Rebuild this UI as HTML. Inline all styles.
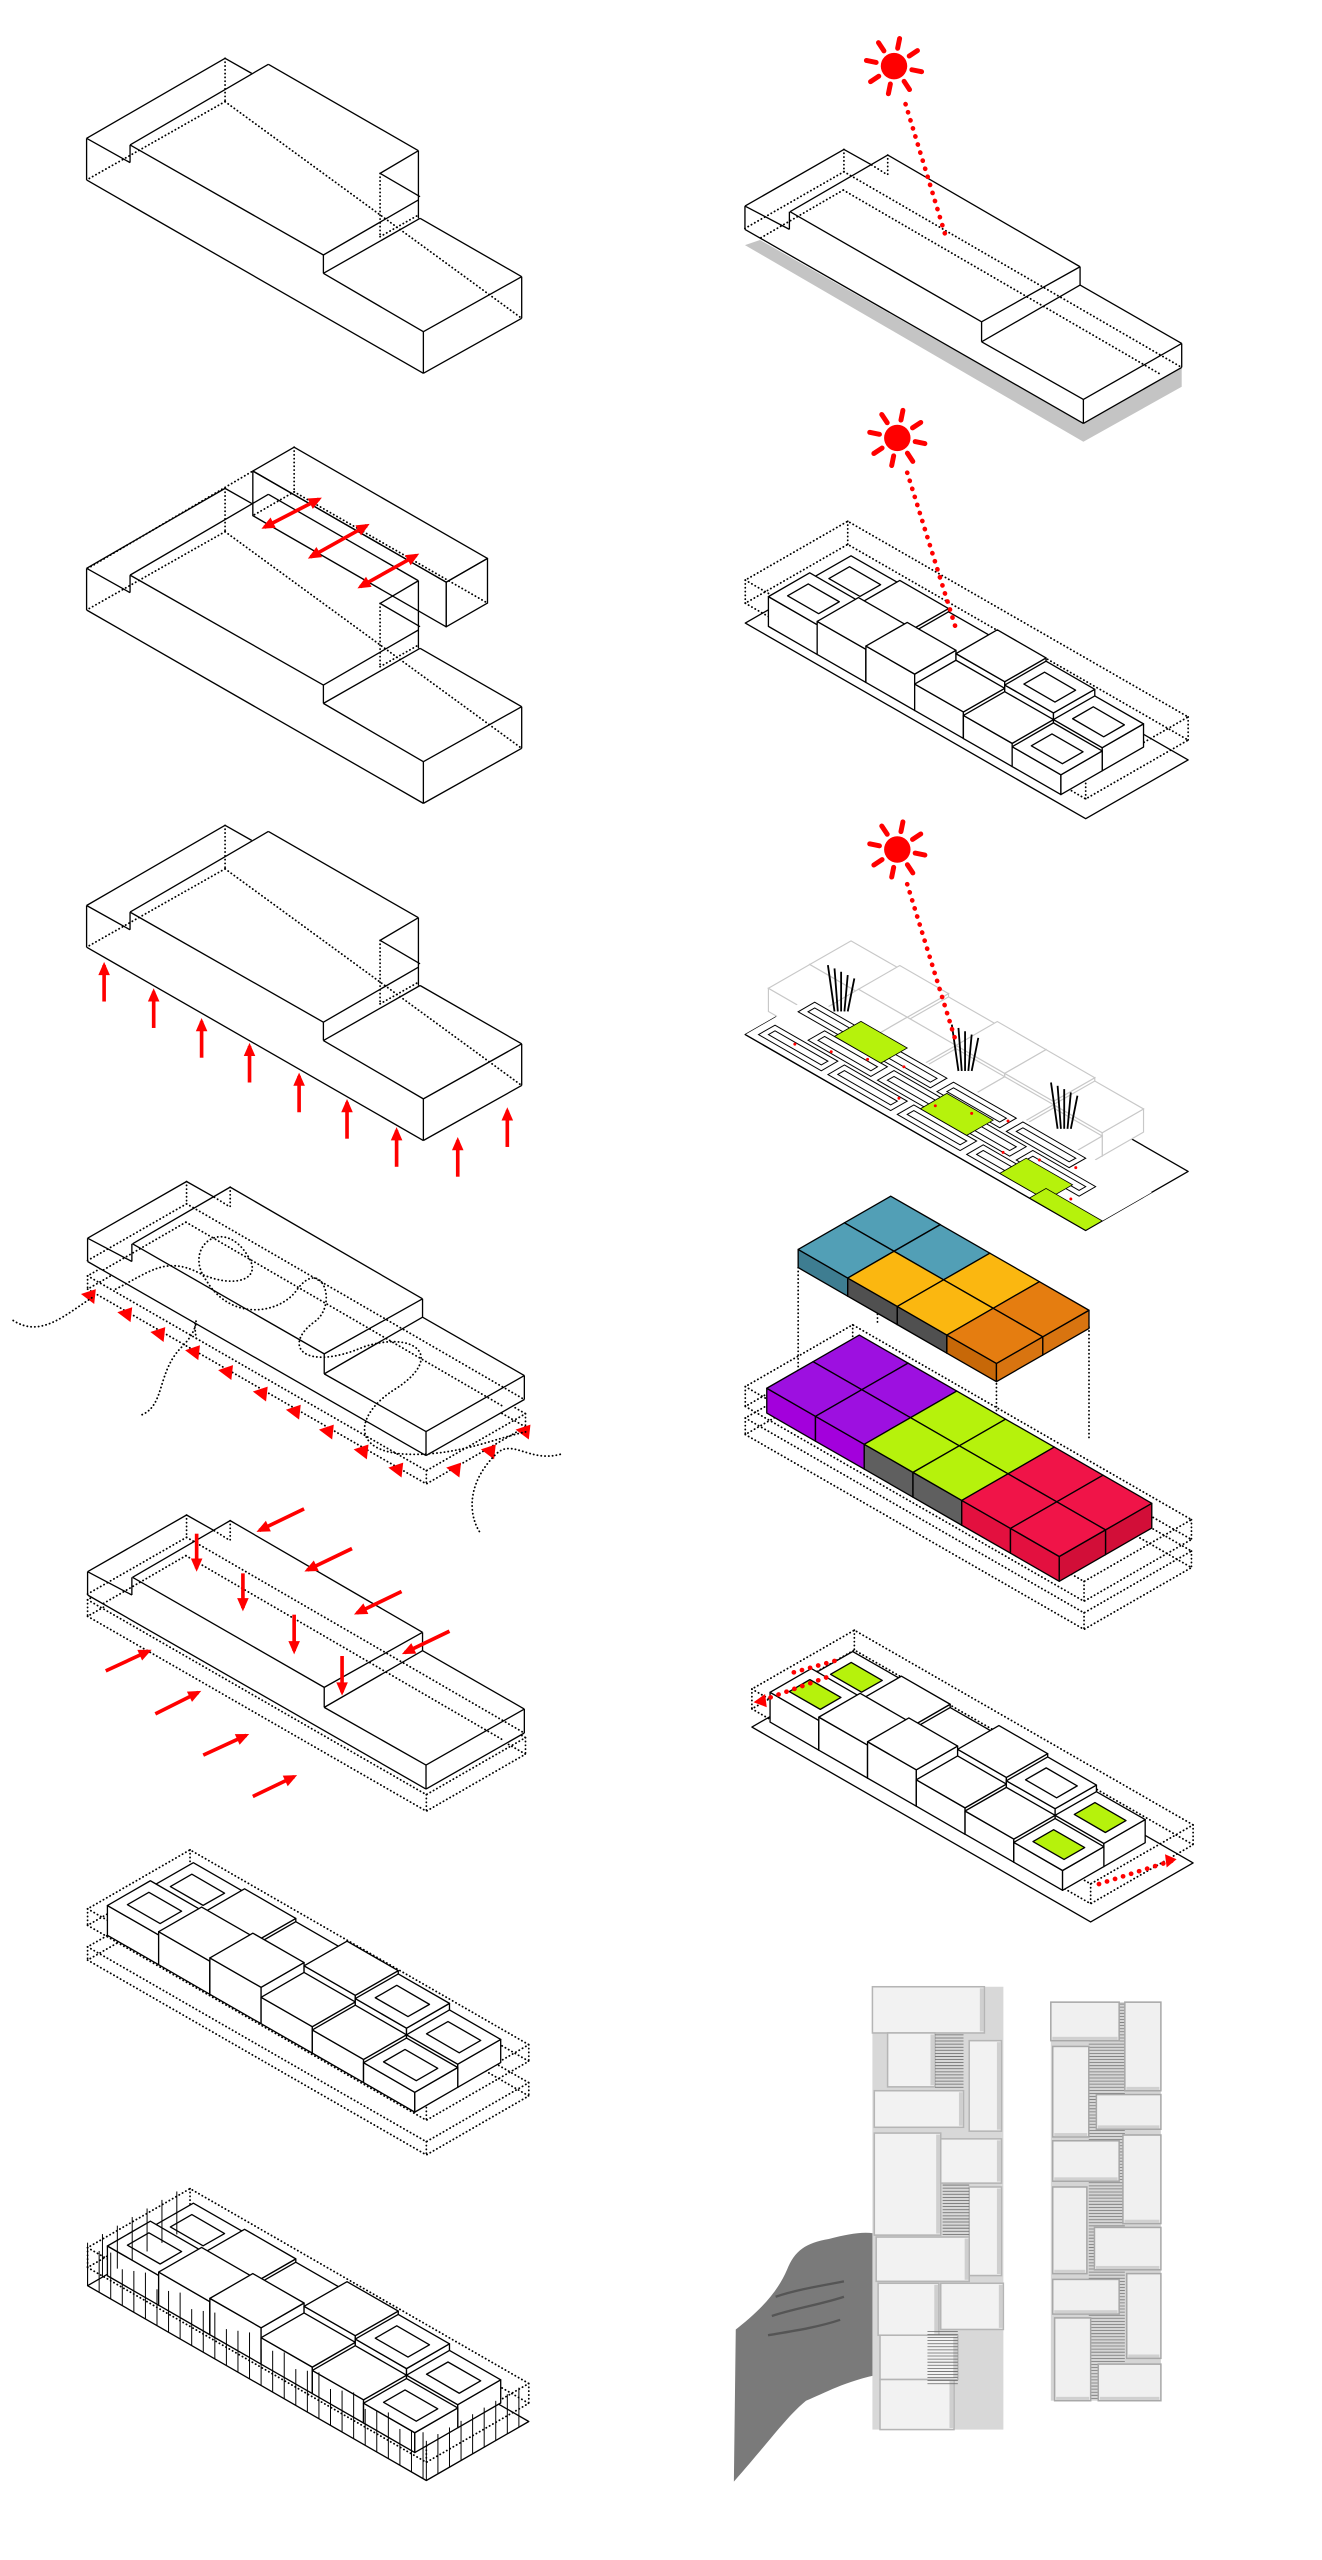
<!DOCTYPE html>
<html><head><meta charset="utf-8">
<style>html,body{margin:0;padding:0;background:#fff;width:1322px;height:2560px;overflow:hidden}svg{display:block}</style>
</head><body>
<svg id="s" xmlns="http://www.w3.org/2000/svg" width="1322" height="2560" viewBox="0 0 800 1549" preserveAspectRatio="none"></svg>
<script>
const k=0.575;let o='';
const f=n=>(+n).toFixed(1);
const SOL='stroke="#000" stroke-width="0.8" stroke-linejoin="round"';
const DOT='stroke="#000" stroke-width="1.1" stroke-dasharray="0.1 2.2" stroke-linecap="round" fill="none"';
function P(a,st){o+=`<polygon points="${a.map(p=>f(p[0])+','+f(p[1])).join(' ')}" ${st}/>`;}
function L(a,b,st){o+=`<line x1="${f(a[0])}" y1="${f(a[1])}" x2="${f(b[0])}" y2="${f(b[1])}" ${st}/>`;}
function I(x,y,u,v){return [x+u+v,y+k*u-k*v];}
function box(x,y,l,w,h,op={}){
 const a=[x,y],b=[x+l,y+k*l],c=[x+l+w,y+k*l-k*w],d=[x+w,y-k*w];
 const dn=p=>[p[0],p[1]+h];
 if(op.dot){P([a,b,c,d],DOT);P([dn(a),dn(b),dn(c),dn(d)],DOT);[a,b,c,d].forEach(p=>L(p,dn(p),DOT));return;}
 if(op.hid){L(dn(d),dn(a),DOT);L(dn(d),dn(c),DOT);L(d,dn(d),DOT);}
 const s=op.stroke||SOL;
 P([a,b,dn(b),dn(a)],`fill="${op.front||op.fill||'none'}" ${s}`);
 P([b,c,dn(c),dn(b)],`fill="${op.side||op.fill||'none'}" ${s}`);
 P([a,b,c,d],`fill="${op.top||op.fill||'none'}" ${s}`);
 if(op.court){P([I(x,y,l*.18,w*.25),I(x,y,l*.82,w*.25),I(x,y,l*.82,w*.75),I(x,y,l*.18,w*.75)],`fill="${op.court}" ${s}`);}
}
// tall stepped shape (left R1-R3), zoom coords of crop (60,30)
const TS=[[80,325,495,85],[495,85,575,130],[625,103,1075,362],[80,325,80,450],[80,450,1090,1030],[80,325,210,398],[210,398,210,345],[210,345,625,103],[210,345,790,675],[790,675,790,730],[790,730,1090,905],[1090,905,1090,1030],[1090,905,1385,740],[1385,740,1385,865],[1385,865,1090,1030],[1385,740,1080,565],[790,730,1080,565],[790,675,1075,510],[1075,362,1075,565],[960,430,1075,362],[960,430,1080,500]];
const TD=[[495,85,495,215],[495,215,80,450],[495,215,1385,865],[960,430,960,620],[960,620,1075,555]];
function tall(dyFull){const Z=(x,y)=>[(60+x/3)/1.6525,(30+y/3+dyFull)/1.6525];
 TS.forEach(s=>L(Z(s[0],s[1]),Z(s[2],s[3]),SOL));TD.forEach(s=>L(Z(s[0],s[1]),Z(s[2],s[3]),DOT));}
// thin stepped shape, zoom coords of crop (740,130)
const HS=[[15,228,312,58],[312,58,395,105],[150,245,443,75],[443,75,1020,410],[1020,410,1020,465],[1020,465,1325,640],[1325,640,1325,712],[1325,712,1030,880],[1030,880,1030,808],[1030,808,1325,640],[15,228,15,298],[15,298,1030,880],[15,228,148,298],[148,298,148,245],[150,245,725,575],[725,575,725,635],[725,635,1030,808],[725,575,1020,410],[725,635,1020,465]];
const HD=[[312,58,312,125],[312,125,15,295],[312,125,1325,712],[443,75,443,135],[395,105,443,135],[310,180,60,325],[310,180,1265,735]];
function thin(dx,dy,shadow){const Z=(x,y)=>[(740+x/3+dx)/1.6525,(130+y/3+dy)/1.6525];
 if(shadow)P([Z(15,345),Z(60,330),Z(1030,880),Z(1325,712),Z(1325,770),Z(1030,935)],'fill="#c4c4c4"');
 P([Z(15,228),Z(312,58),Z(1020,410),Z(1325,640),Z(1325,712),Z(1030,880),Z(15,298)],'fill="#fff"');
 HS.forEach(s=>L(Z(s[0],s[1]),Z(s[2],s[3]),SOL));HD.forEach(s=>L(Z(s[0],s[1]),Z(s[2],s[3]),DOT));}
function arrow(x1,y1,x2,y2,both){
 o+=`<line x1="${x1}" y1="${y1}" x2="${x2}" y2="${y2}" stroke="#f00" stroke-width="2.2"/>`;
 const hd=(xa,ya,xb,yb)=>{const dx=xb-xa,dy=yb-ya,l=Math.hypot(dx,dy),ux=dx/l,uy=dy/l;
  P([[xb+ux*2,yb+uy*2],[xb-ux*6-uy*3.5,yb-uy*6+ux*3.5],[xb-ux*6+uy*3.5,yb-uy*6-ux*3.5]],'fill="#f00"');};
 hd(x1,y1,x2,y2); if(both)hd(x2,y2,x1,y1);
}
function sun(cx,cy){o+=`<circle cx="${cx}" cy="${cy}" r="8" fill="#f00"/>`;
 for(let i=0;i<8;i++){const a=i*Math.PI/4+0.2;o+=`<line x1="${f(cx+Math.cos(a)*11)}" y1="${f(cy+Math.sin(a)*11)}" x2="${f(cx+Math.cos(a)*17)}" y2="${f(cy+Math.sin(a)*17)}" stroke="#f00" stroke-width="3" stroke-linecap="round"/>`;}}
function rdot(x1,y1,x2,y2){o+=`<line x1="${x1}" y1="${y1}" x2="${x2}" y2="${y2}" stroke="#f00" stroke-width="2.8" stroke-dasharray="0.1 5" stroke-linecap="round"/>`;}
const H=[[18,14],[20,16],[22,14],[16,20],[14,18],[12,14]];
const CT=[[1,1],[0,0],[0,0],[0,0],[0,1],[1,1]];
function blocks(bx,by,cl,cw,opt={}){
 for(let i=0;i<6;i++)for(let j=1;j>=0;j--){
  const h=(opt.H||H)[i][j];if(!h)continue;
  const x=bx+i*cl+j*cw,yb=by+k*i*cl-k*j*cw;
  const c=opt.col?opt.col[i][j]:null;
  const q={fill:'#fff'};
  if(c){q.top=c[0];q.front=c[1];q.side=c[2];}
  if(opt.stroke)q.stroke=opt.stroke;
  if(CT[i][j]&&!opt.noCourt)q.court=(opt.green&&(i==0||i==5))?'#b6f20c':'#fff';
  box(x,yb-h,cl,cw,h,q);
 }
}
// ===== LEFT COLUMN =====
tall(0);
// R2
tall(430);
box(153,285,117,25,27,{hid:true});
L([53,344],[153,285],DOT);
arrow(160,319,193,302,true);arrow(188,337,222,318,true);arrow(218,355,252,336,true);
// R3
tall(767);
[[63,584],[93,600],[122,618],[151,633],[181,651],[210,667],[240,684],[277,690],[307,672]].forEach(p=>arrow(p[0],p[1]+22,p[0],p[1]));
// R4
box(53,772,205,60,8,{dot:true});
thin(-657.4,1032,false);
[[54,785],[76,796],[96,808],[117,819],[137,831],[158,844],[178,855],[198,867],[219,879],[240,890],[275,890],[296,879],[317,867]].forEach(p=>P([[p[0]-5,p[1]-2],[p[0]+4,p[1]-5],[p[0]+3,p[1]+4]],'fill="#f00"'));
o+=`<path d="M8,799 C25,810 40,795 56,785 M70,780 C90,770 100,760 120,770 C140,780 160,775 150,760 C135,735 110,755 125,775 C140,800 170,795 180,780 C195,760 205,790 190,800 C170,815 185,830 220,815 C250,805 270,820 240,840 C215,855 210,880 250,880 C280,880 300,870 320,866 M86,856 C100,850 95,830 110,815 C125,800 115,790 119,811 M339,880 C320,885 310,870 300,880 C280,900 285,920 291,928" ${DOT}/>`;
// R5
box(53,968,205,60,10,{dot:true});
thin(-657.4,1365.5,false);
[[119,928,119,949],[147,952,147,973],[178,977,178,999],[207,1002,207,1024]].forEach(a=>arrow(...a));
[[176,917,157,926],[205,941,186,950],[235,967,216,976],[264,991,245,1000]].forEach(a=>arrow(a[0]+8,a[1]-4,a[2],a[3]));
[[70,1008,90,999],[100,1034,120,1024],[129,1059,149,1050],[159,1084,178,1075]].forEach(a=>arrow(a[0]-6,a[1]+3,a[2],a[3]));
// R6
box(53,1155,205,62,10,{dot:true});box(53,1178,205,62,8,{dot:true});
blocks(65,1171,31,26);
// R7
P([I(53,1383,0,0),I(53,1383,205,0),I(53,1383,205,62),I(53,1383,0,62)],`fill="none" ${SOL}`);
box(53,1360,205,62,12,{dot:true});
blocks(65,1377,31,26);
for(let u=0;u<=205;u+=7){const p=I(53,1383,u,0);L(p,[p[0],p[1]-22-(u%3)*3],'stroke="#000" stroke-width="0.6"');}
for(let v=0;v<=62;v+=7){const p=I(53,1383,205,v);L(p,[p[0],p[1]-24],'stroke="#000" stroke-width="0.6"');}
for(let v=0;v<=62;v+=9){const p=I(53,1383,0,v);L(p,[p[0],p[1]-26],'stroke="#000" stroke-width="0.6"');}
// ===== RIGHT COLUMN =====
// R1
thin(0,0,true);
sun(541,40);rdot(548,63,572,142);
// R2
P([I(451,377,0,0),I(451,377,206,0),I(451,377,206,62),I(451,377,0,62)],`fill="none" ${SOL}`);
box(451,351,206,62,14,{dot:true});
blocks(465,379,29.5,25);
sun(543,265);rdot(549,286,579,382);
// R3
P([I(451,626,0,0),I(451,626,206,0),I(451,626,206,62),I(451,626,0,62)],`fill="#fff" ${SOL}`);
blocks(465,612,29.5,25,{stroke:'stroke="#c8c8c8" stroke-width="0.7"',noCourt:true,H:[[14,14],[16,16],[16,14],[14,16],[14,16],[12,14]]});
P([I(451,626,0,0),I(451,626,206,0),I(451,626,206,40),I(451,626,0,40)],`fill="#fff" stroke="none"`);
P([I(451,626,0,0),I(451,626,206,0)],`fill="none" ${SOL}`);
for(let r=0;r<3;r++){const v0=4+r*12;for(let c=0;c<5;c++){const u0=4+c*42+(r%2)*18;if(u0+38>204)continue;
 const R=(u,v,lu,lv)=>P([I(451,626,u,v),I(451,626,u+lu,v),I(451,626,u+lu,v+lv),I(451,626,u,v+lv)],`fill="none" stroke="#000" stroke-width="0.6"`);
 R(u0,v0,38,10);R(u0+3,v0+3,32,4);}}
const G=(u,v,lu,lv)=>P([I(451,626,u,v),I(451,626,u+lu,v),I(451,626,u+lu,v+lv),I(451,626,u,v+lv)],'fill="#b6f20c" stroke="#000" stroke-width="0.5"');
G(28,26,28,16);G(92,14,28,16);G(150,4,28,16);G(172,0,34,10);
[[505,612],[580,648],[640,683]].forEach(p=>{for(let t=0;t<5;t++)L([p[0]+t*2,p[1]],[p[0]-4+t*4,p[1]-28+t*2],'stroke="#000" stroke-width="1.1"');});
for(let t=0;t<12;t++){const p=I(451,626,20+t*15,10+(t*7)%25);o+=`<circle cx="${f(p[0])}" cy="${f(p[1])}" r="0.9" fill="#f00"/>`;}
sun(543,514);rdot(549,535,579,632);
// R4 colored
const TE=['#529fb6','#3e7d91','#5aa6bd'],GO=['#fbb710','#505050','#e3a200'],DO=['#e57d10','#c76808','#d87410'],
PU=['#9d10e0','#a300dc','#8800bf'],LI=['#b6f20c','#5f5f5f','#9ed800'],RE=['#f01448','#e3103f','#d20e38'];
box(451,839,205,65,12,{dot:true});box(451,858,205,65,10,{dot:true});
[[483,767,483,850],[531,740,531,800],[603,835,603,880],[659,803,659,870]].forEach(a=>L([a[0],a[1]],[a[2],a[3]],DOT));
blocks(464,855,29.5,28,{noCourt:true,H:[[15,15],[15,15],[15,15],[15,15],[15,15],[15,15]],col:[[PU,PU],[PU,PU],[LI,LI],[LI,LI],[RE,RE],[RE,RE]]});
blocks(483,767,30,28,{noCourt:true,H:[[11,11],[11,11],[11,11],[11,11],[0,0],[0,0]],col:[[TE,TE],[GO,TE],[GO,GO],[DO,DO],[0,0],[0,0]]});
// R5
P([I(455,1045,0,0),I(455,1045,205,0),I(455,1045,205,62),I(455,1045,0,62)],`fill="none" ${SOL}`);
box(455,1022,205,62,12,{dot:true});
blocks(466,1042,29.5,25,{green:true});
rdot(500,1015,458,1030);rdot(505,1005,480,1012);rdot(665,1140,712,1125);
P([[456,1030],[463,1025],[464,1033]],'fill="#f00"');P([[712,1125],[705,1122],[706,1130]],'fill="#f00"');
// R6 photos
o+=`<g transform="translate(441.8,1180) scale(0.2297,0.233)">`;
o+=`<path d="M10,1380 L15,985 C60,950 120,900 150,830 C170,780 200,760 260,750 C320,735 360,728 400,740 L420,760 L400,820 L400,1100 C300,1120 250,1150 200,1170 C150,1210 100,1280 10,1380 Z" fill="#7a7a7a"/>`;
o+=`<path d="M120,900 C180,880 250,870 300,860 M110,950 C170,930 240,920 300,900 M100,1000 C160,990 230,980 290,960" stroke="#555" stroke-width="6" fill="none"/>`;
o+=`<rect x="375" y="95" width="345" height="1150" fill="#d8d8d8"/>`;
const lb=[[375,95,295,120],[415,215,125,140],[630,235,85,235],[380,365,235,95],[380,475,175,265],[555,490,160,115],[630,615,85,230],[385,745,245,115],[390,865,160,135],[555,865,165,120],[395,1000,205,115],[395,1115,195,130]];
lb.forEach(r=>{o+=`<rect x="${r[0]}" y="${r[1]}" width="${r[2]}" height="${r[3]}" fill="#f2f2f2" stroke="#b5b5b5" stroke-width="4"/><rect x="${r[0]+r[2]-12}" y="${r[1]+4}" width="10" height="${r[3]-8}" fill="#cfcfcf"/>`;});
[[540,220,75,140],[560,610,70,130],[520,990,80,140]].forEach(r=>{for(let y=r[1];y<r[1]+r[3];y+=8)o+=`<line x1="${r[0]}" y1="${y}" x2="${r[0]+r[2]}" y2="${y}" stroke="#666" stroke-width="2"/>`;});
o+=`<rect x="845" y="135" width="290" height="1035" fill="#d5d5d5"/>`;
for(let y=140;y<1170;y+=8)o+=`<line x1="945" y1="${y}" x2="1040" y2="${y}" stroke="#777" stroke-width="2"/>`;
const rb=[[845,135,180,100],[1040,135,95,230],[850,250,95,235],[965,375,170,90],[850,495,175,105],[1035,480,100,230],[850,615,90,225],[960,720,175,110],[850,855,175,90],[1045,840,90,220],[855,955,95,215],[970,1075,165,95]];
rb.forEach(r=>{o+=`<rect x="${r[0]}" y="${r[1]}" width="${r[2]}" height="${r[3]}" fill="#f0f0f0" stroke="#a8a8a8" stroke-width="4"/><rect x="${r[0]+4}" y="${r[1]+r[3]-10}" width="${r[2]-8}" height="8" fill="#d0d0d0"/>`;});
o+=`</g>`;
document.getElementById('s').innerHTML=o;
</script>
</body></html>
